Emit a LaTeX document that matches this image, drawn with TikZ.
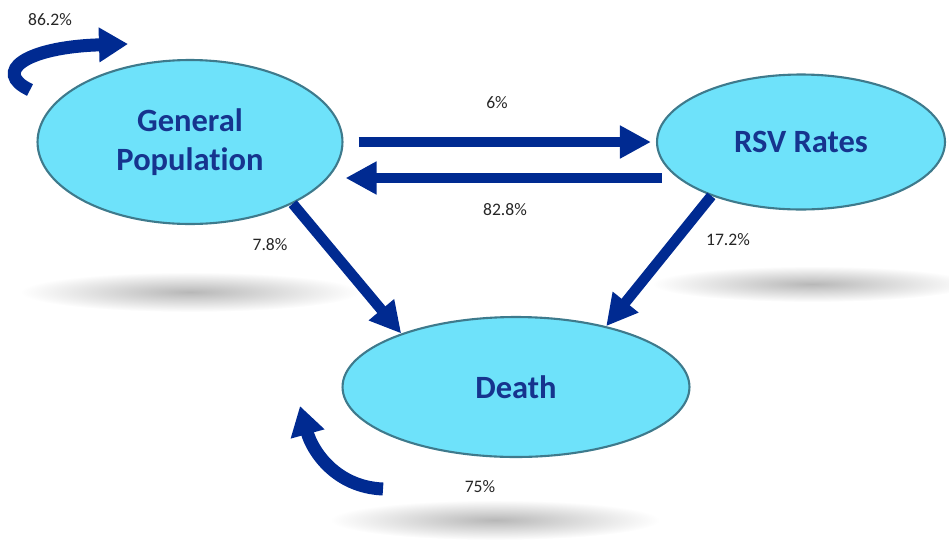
\documentclass[tikz,border=0pt]{standalone}
\usepackage{fontspec}
\setmainfont{Carlito}[Ligatures=NoCommon]
\usetikzlibrary{arrows.meta,shapes.geometric}
\definecolor{arrowblue}{RGB}{0,42,145}
\definecolor{textblue}{RGB}{22,52,142}
\definecolor{cellfill}{RGB}{110,226,250}
\definecolor{celledge}{RGB}{62,122,140}
\begin{document}
\begin{tikzpicture}[x=0.02cm, y=-0.02cm,
      state/.style = {
        ellipse, draw=celledge, very thick, fill=cellfill, text=textblue,
        font=\fontsize{18.5}{22}\selectfont\bfseries, align=center, inner sep=0pt },
      line-flow/.style = { draw=arrowblue, line width=0.21cm,
        -{Triangle[width=0.62cm,length=0.62cm]} },
      line-loop/.style = { draw=arrowblue, line width=0.26cm,
        -{Triangle[width=0.66cm,length=0.58cm]} },
      rate/.style = { font=\fontsize{10}{12}\selectfont, text=black!85 },
      blur/.style = { inner color=black!28, outer color=white }]
    \useasboundingbox (0,0) rectangle (949,545);
    % soft shadows under the states
    \shade[blur] (190,292) ellipse [x radius=170, y radius=20];
    \shade[blur] (812,284) ellipse [x radius=160, y radius=18];
    \shade[blur] (495,520) ellipse [x radius=165, y radius=20];
    \node [state, minimum width=6.1cm, minimum height=3.28cm] (gp) at (190,142) {General\\Population};
    \node [state, minimum width=5.76cm, minimum height=2.7cm] (rsv) at (801,142) {RSV Rates};
    \node [state, minimum width=6.94cm, minimum height=2.8cm] (death) at (516,387) {Death};
    \coordinate (gp-loop-start) at (30,90);
    \coordinate (gp-loop-end) at (128,44);
    \coordinate (death-loop-start) at (383,489);
    \coordinate (death-loop-end) at (300,406);
    % transitions
    \draw[line-flow] ([xshift=0.3cm]gp.east) -- ([xshift=-0.1cm]rsv.west);
    \draw[line-flow] ([xshift=0.12cm,yshift=-0.72cm]rsv.west) -- ([xshift=0.04cm,yshift=-0.72cm]gp.east);
    \draw[line-flow] (gp.-31) -- (death.155);
    \draw[line-flow] (rsv.-149) -- (death.34);
    \draw[line-loop] (gp-loop-start) .. controls (-8,72) and (25,47) .. (gp-loop-end);
    \draw[line-loop] (death-loop-start) .. controls (335,487) and (312,450) .. (death-loop-end);
    \node[rate] (rate-gp-gp) at (50,20) {86.2\%};
    \node[rate] (rate-gp-rsv) at (497,103) {6\%};
    \node[rate] (rate-rsv-gp) at (505,210) {82.8\%};
    \node[rate] (rate-gp-death) at (270,245) {7.8\%};
    \node[rate] (rate-rsv-death) at (728,240) {17.2\%};
    \node[rate] (rate-death-death) at (480,487) {75\%};
  \end{tikzpicture}
\end{document}
